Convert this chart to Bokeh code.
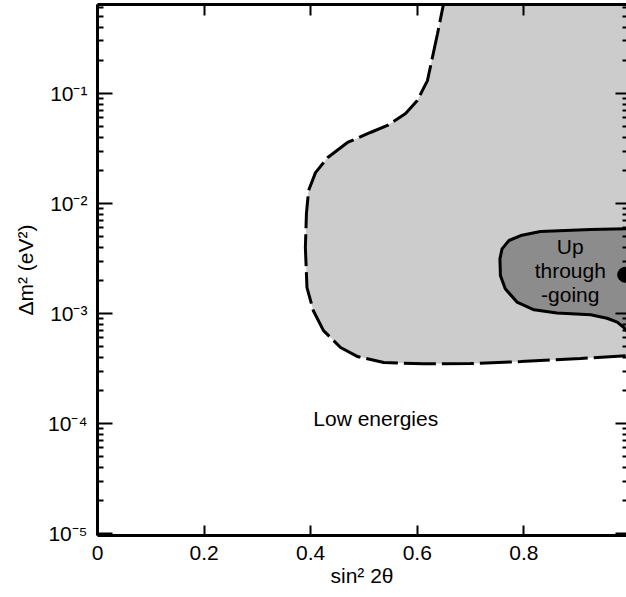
from bokeh.plotting import figure
from bokeh.models import FixedTicker, LogAxis, LinearAxis, Range1d
from bokeh.embed import file_html
from bokeh.resources import INLINE
from bokeh.core.properties import value

# ---- data ----
# low-energy allowed region (dashed contour), runs off the top and right edges
low_x = [0.653, 0.649, 0.638, 0.619, 0.600, 0.578, 0.544, 0.512, 0.469, 0.432,
         0.409, 0.396, 0.392, 0.390, 0.393, 0.405, 0.424, 0.456, 0.488, 0.537,
         0.612, 0.700, 0.794, 0.906, 1.000, 1.020]
low_y = [0.86, 0.644, 0.351, 0.131, 0.0863, 0.0658, 0.0512, 0.0442, 0.0359, 0.0262,
         0.0191, 0.0131, 0.00811, 0.00398, 0.00172, 0.00106, 0.000700, 0.000491,
         0.000406, 0.000359, 0.000349, 0.000351, 0.000366, 0.000390, 0.000415, 0.000418]
low_corner_x = [1.020]
low_corner_y = [0.86]

# up-through-going allowed region (solid contour)
up_x = [1.020, 0.925, 0.831, 0.794, 0.772, 0.759, 0.755, 0.756, 0.765, 0.787,
        0.819, 0.862, 0.925, 0.956, 0.975, 0.987, 1.000, 1.020]
up_y = [0.00593, 0.00580, 0.00556, 0.00511, 0.00461, 0.00387, 0.00314, 0.00221,
        0.00168, 0.00127, 0.00108, 0.00101, 0.000973, 0.000906, 0.000834, 0.000750,
        0.000631, 0.000600]

best_x = [0.99]
best_y = [0.00225]

up_label_text = ["Up", "through", "-going"]
up_label_x = [0.887, 0.887, 0.887]
up_label_y = [0.00409, 0.00246, 0.00149]

low_label_text = ["Low energies"]
low_label_x = [0.522]
low_label_y = [0.000111]

x_ticks = [0.0, 0.2, 0.4, 0.6, 0.8, 1.0]
x_tick_labels = ["0", "0.2", "0.4", "0.6", "0.8", "1"]
y_ticks = [1e-5, 1e-4, 1e-3, 1e-2, 1e-1]
y_tick_labels = ["10\u207b\u2075", "10\u207b\u2074", "10\u207b\u00b3", "10\u207b\u00b2", "10\u207b\u00b9"]
y_minor = [m * d for d in [1e-6, 1e-5, 1e-4, 1e-3, 1e-2, 1e-1] for m in range(2, 10)]

FONT = "Liberation Sans"
FS = "21px"

p = figure(width=626, height=597, output_backend="svg", toolbar_location=None,
           y_axis_type="log",
           x_range=Range1d(0.0, 0.9925), y_range=Range1d(9.6e-6, 0.644),
           min_border_left=97, min_border_right=0, min_border_top=4,
           min_border_bottom=62)
p.outline_line_color = None
p.xgrid.visible = False
p.ygrid.visible = False
p.background_fill_color = "white"
p.border_fill_color = "white"

# regions
p.patch(low_x + low_corner_x, low_y + low_corner_y, fill_color="#cccccc", line_color=None)
p.line(low_x, low_y, line_color="black", line_width=3, line_dash="32 6")
p.patch(up_x, up_y, fill_color="#8c8c8c", line_color="black", line_width=3)
p.scatter(best_x, best_y, size=15, color="black")

p.text(up_label_x, up_label_y, text=up_label_text, text_align="center",
       text_baseline="middle", text_font=value(FONT), text_font_size=FS, text_color="black")
p.text(low_label_x, low_label_y, text=low_label_text, text_align="center",
       text_baseline="middle", text_font=value(FONT), text_font_size=FS, text_color="black")

xt = FixedTicker(ticks=x_ticks, minor_ticks=[])
yt = FixedTicker(ticks=y_ticks, minor_ticks=y_minor)
x_over = {t: l for t, l in zip(x_ticks, x_tick_labels)}
y_over = {t: l for t, l in zip(y_ticks, y_tick_labels)}

bx = p.xaxis[0]
bx.ticker = xt
bx.major_label_overrides = x_over
bx.axis_label = "sin\u00b2 2\u03b8"
by = p.yaxis[0]
by.ticker = yt
by.major_label_overrides = y_over
by.axis_label = "\u0394m\u00b2 (eV\u00b2)"

for ax in (bx, by):
    ax.axis_line_width = 3
    ax.axis_line_color = "black"
    ax.major_tick_line_width = 2
    ax.minor_tick_line_width = 2
    ax.major_tick_out = 0
    ax.minor_tick_out = 0
    ax.major_label_text_font = FONT
    ax.major_label_text_font_size = FS
    ax.major_label_text_color = "black"
    ax.axis_label_text_font = FONT
    ax.axis_label_text_font_size = FS
    ax.axis_label_text_font_style = "normal"
    ax.axis_label_text_color = "black"
bx.major_tick_in = 10
bx.minor_tick_in = 0
bx.major_label_standoff = 10
bx.axis_label_standoff = 1
by.major_tick_in = 15
by.minor_tick_in = 6
by.major_label_standoff = 10
by.axis_label_standoff = 8

top = LinearAxis(ticker=FixedTicker(ticks=x_ticks, minor_ticks=[]),
                 major_label_text_font_size="1px", major_label_text_color=None,
                 major_label_standoff=0,
                 major_tick_in=11, major_tick_out=0, minor_tick_in=0, minor_tick_out=0,
                 major_tick_line_width=2, axis_line_width=3, axis_line_color="black")
p.add_layout(top, "above")
right = LogAxis(ticker=FixedTicker(ticks=y_ticks, minor_ticks=y_minor),
                major_label_text_font_size="1px", major_label_text_color=None,
                major_label_standoff=0,
                major_tick_in=11, major_tick_out=0, minor_tick_in=4, minor_tick_out=0,
                major_tick_line_width=2, minor_tick_line_width=2, axis_line_alpha=0)
p.add_layout(right, "right")

open("out.html", "w").write(file_html(p, INLINE))
